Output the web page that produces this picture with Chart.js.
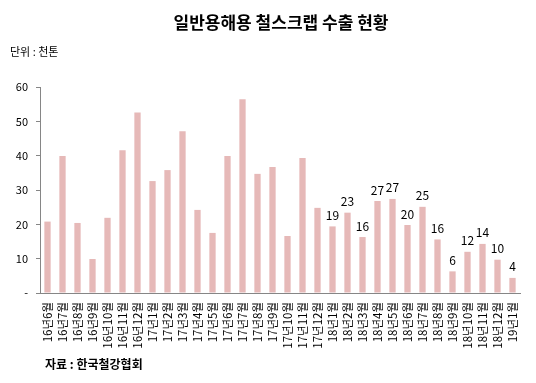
<!DOCTYPE html>
<html>
<head>
<meta charset="utf-8">
<script src="https://cdn.jsdelivr.net/npm/chart.js@4/dist/chart.umd.min.js"></script>
<style>
  html, body { margin: 0; padding: 0; background: #ffffff; }
  #wrap { width: 536px; height: 383px; position: relative; }
</style>
</head>
<body>
<div id="wrap"><canvas id="c" width="536" height="383"></canvas></div>
<script>
const chartTitle = '일반용해용 철스크랩 수출 현황';
const unitText = '단위 : 천톤';
const sourceText = '자료 : 한국철강협회';

const categories = [
  '16년6월','16년7월','16년8월','16년9월','16년10월','16년11월','16년12월',
  '17년1월','17년2월','17년3월','17년4월','17년5월','17년6월','17년7월','17년8월',
  '17년9월','17년10월','17년11월','17년12월',
  '18년1월','18년2월','18년3월','18년4월','18년5월','18년6월','18년7월','18년8월',
  '18년9월','18년10월','18년11월','18년12월','19년1월'
];
const exportValues = [
  20.8, 39.9, 20.4, 9.9, 21.9, 41.6, 52.6,
  32.6, 35.8, 47.1, 24.2, 17.5, 39.9, 56.4, 34.7,
  36.7, 16.6, 39.3, 24.8,
  19.4, 23.4, 16.3, 26.8, 27.4, 19.8, 25.1, 15.6,
  6.3, 12.0, 14.3, 9.7, 4.4
];
const labelFromCategory = '18년1월';
const yTicks = [0, 10, 20, 30, 40, 50, 60];

const KR = '"Noto Sans CJK KR", "Noto Sans", sans-serif';

const textPlugin = {
  id: 'textPlugin',
  afterDatasetsDraw(chart) {
    const ctx = chart.ctx;
    const meta = chart.getDatasetMeta(0);
    const start = categories.indexOf(labelFromCategory);
    ctx.save();
    ctx.fillStyle = '#000000';
    ctx.font = '12px ' + KR;
    ctx.textAlign = 'center';
    ctx.textBaseline = 'bottom';
    meta.data.forEach((bar, i) => {
      if (i < start) return;
      const v = exportValues[i];
      ctx.fillText(String(Math.round(v)), bar.x, bar.y - 5);
    });
    ctx.restore();
  },
  afterDraw(chart) {
    const ctx = chart.ctx;
    const area = chart.chartArea;
    ctx.save();
    ctx.fillStyle = '#000000';
    ctx.textBaseline = 'middle';
    ctx.textAlign = 'center';
    ctx.font = 'bold 17px ' + KR;
    ctx.fillText(chartTitle, (area.left + area.right) / 2 + 1, 23);
    ctx.textAlign = 'left';
    ctx.font = '11px ' + KR;
    ctx.fillText(unitText, 10, 52);
    ctx.font = 'bold 12px ' + KR;
    ctx.fillText(sourceText, 45, 364);
    ctx.restore();
  }
};

new Chart(document.getElementById('c'), {
  type: 'bar',
  data: {
    labels: categories,
    datasets: [{
      data: exportValues,
      backgroundColor: '#E6B9B8',
      borderWidth: 0,
      barPercentage: 0.42,
      categoryPercentage: 1.0
    }]
  },
  options: {
    responsive: false,
    animation: false,
    devicePixelRatio: 1,
    layout: { padding: { left: 0, right: 16, top: 87, bottom: 0 } },
    plugins: {
      legend: { display: false },
      tooltip: { enabled: false },
      title: { display: false }
    },
    scales: {
      x: {
        grid: { display: true, drawOnChartArea: false, drawTicks: false },
        border: { display: true, color: '#868686', width: 1 },
        ticks: {
          autoSkip: false,
          minRotation: 90,
          maxRotation: 90,
          padding: 9,
          color: '#000000',
          font: { family: KR, size: 11.5 }
        },
        afterFit(scale) { scale.height = 90; }
      },
      y: {
        min: 0,
        max: 60,
        afterBuildTicks(scale) { scale.ticks = yTicks.map(v => ({ value: v })); },
        grid: { display: true, drawOnChartArea: false, drawTicks: true, tickLength: 4, color: '#868686' },
        border: { display: true, color: '#868686', width: 1 },
        ticks: {
          padding: 8,
          color: '#000000',
          font: { family: KR, size: 11 },
          callback: (v) => (v === 0 ? '-' : String(v))
        },
        afterFit(scale) { scale.width = 40; }
      }
    }
  },
  plugins: [textPlugin]
});
</script>
</body>
</html>
